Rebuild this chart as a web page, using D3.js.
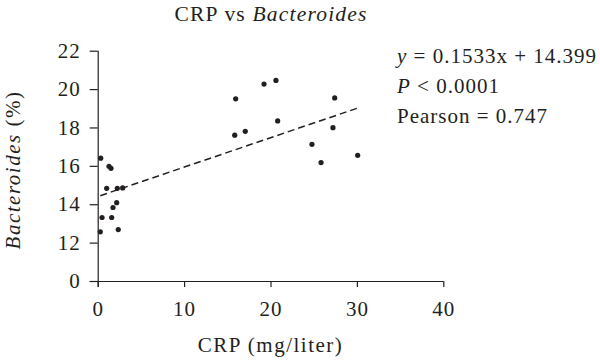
<!DOCTYPE html>
<html>
<head>
<meta charset="utf-8">
<script src="https://cdn.jsdelivr.net/npm/d3@7"></script>
<style>
  body { margin: 0; background: #fff; }
  svg { display: block; }
  text { font-family: "Liberation Serif", serif; fill: #231f20; }
</style>
</head>
<body>
<main></main>
<script>
// CRP (mg/liter) and Bacteroides (%) per sample
const crp = [0.35, 1.31, 1.54, 1.04, 2.27, 2.89, 2.2, 1.77, 0.5, 1.62, 0.3, 2.38,
  15.97, 19.25, 20.63, 20.83, 15.86, 17.08, 27.43, 27.23, 24.8, 25.85, 30.09];
const bacteroides = [16.4, 15.98, 15.87, 14.83, 14.83, 14.85, 14.08, 13.83, 13.31, 13.31, 12.56, 12.68,
  19.49, 20.26, 20.45, 18.34, 17.6, 17.8, 19.54, 17.99, 17.12, 16.17, 16.55];

const xTicks = [0, 10, 20, 30, 40];
// y axis is broken: the lowest tick stands for 0
const yTicks = [10, 12, 14, 16, 18, 20, 22];
const yTickLabels = ["0", "12", "14", "16", "18", "20", "22"];

const slope = 0.1533;
const intercept = 14.399;
const statLines = ["= 0.1533x + 14.399", "< 0.0001", "Pearson = 0.747"];

const width = 600;
const height = 361;
const margin = { top: 50.7, right: 156.7, bottom: 80, left: 97.7 };

const svg = d3.select("main").append("svg").attr("width", width).attr("height", height);

const xScale = d3.scaleLinear().domain([0, 40]).range([margin.left, width - margin.right]);
const yScale = d3.scaleLinear().domain([10, 22]).range([height - margin.bottom, margin.top]);

const xAxis = d3.axisBottom(xScale).tickValues(xTicks).tickSize(6).tickSizeOuter(0).tickPadding(14);
const yAxis = d3
  .axisLeft(yScale)
  .tickValues(yTicks)
  .tickFormat((d, i) => yTickLabels[i])
  .tickSize(8)
  .tickSizeOuter(0)
  .tickPadding(9);

const gx = svg
  .append("g")
  .attr("transform", `translate(0, ${height - margin.bottom})`)
  .call(xAxis);
gx.select(".domain").attr("d", `M${margin.left - 8},0.5H${width - margin.right}`);

const gy = svg
  .append("g")
  .attr("transform", `translate(${margin.left}, 0)`)
  .call(yAxis);
gy.select(".domain").attr("d", `M0.5,${margin.top}V${height - margin.bottom + 6}`);

svg.selectAll(".tick line, .domain").attr("stroke", "#231f20").attr("stroke-width", 1.2);
svg
  .selectAll(".tick text")
  .style("font-size", "21px")
  .style("letter-spacing", "1px")
  .attr("fill", "#231f20");

// regression line over the range of the data
const xExt = d3.extent(crp);
svg
  .append("line")
  .attr("x1", xScale(xExt[0]))
  .attr("y1", yScale(slope * xExt[0] + intercept))
  .attr("x2", xScale(xExt[1]))
  .attr("y2", yScale(slope * xExt[1] + intercept))
  .attr("stroke", "#231f20")
  .attr("stroke-width", 1.5)
  .attr("stroke-dasharray", "7,4");

svg
  .selectAll("circle")
  .data(crp)
  .enter()
  .append("circle")
  .attr("cx", (d) => xScale(d))
  .attr("cy", (d, i) => yScale(bacteroides[i]))
  .attr("r", 2.6)
  .attr("fill", "#231f20");

// title
const title = svg
  .append("text")
  .attr("x", 271)
  .attr("y", 21)
  .attr("text-anchor", "middle")
  .style("font-size", "21.5px")
  .style("letter-spacing", "1.2px");
title.append("tspan").text("CRP vs ");
title.append("tspan").style("font-style", "italic").text("Bacteroides");

// axis titles
svg
  .append("text")
  .attr("x", (margin.left + width - margin.right) / 2)
  .attr("y", 351.5)
  .attr("text-anchor", "middle")
  .style("font-size", "21px")
  .style("letter-spacing", "1.5px")
  .text("CRP (mg/liter)");

const yLabel = svg
  .append("text")
  .attr("transform", `translate(20, 170) rotate(-90)`)
  .attr("text-anchor", "middle")
  .style("font-size", "21px")
  .style("letter-spacing", "1.5px");
yLabel.append("tspan").style("font-style", "italic").text("Bacteroides");
yLabel.append("tspan").text(" (%)");

// stats
const stats = svg
  .append("g")
  .attr("transform", "translate(397, 0)")
  .style("font-size", "21px")
  .style("letter-spacing", "1px");
const l1 = stats.append("text").attr("y", 63.3);
l1.append("tspan").style("font-style", "italic").text("y");
l1.append("tspan").text(" " + statLines[0]);
const l2 = stats.append("text").attr("y", 93.3);
l2.append("tspan").style("font-style", "italic").text("P");
l2.append("tspan").text(" " + statLines[1]);
stats.append("text").attr("y", 123.3).text(statLines[2]);
</script>
</body>
</html>
